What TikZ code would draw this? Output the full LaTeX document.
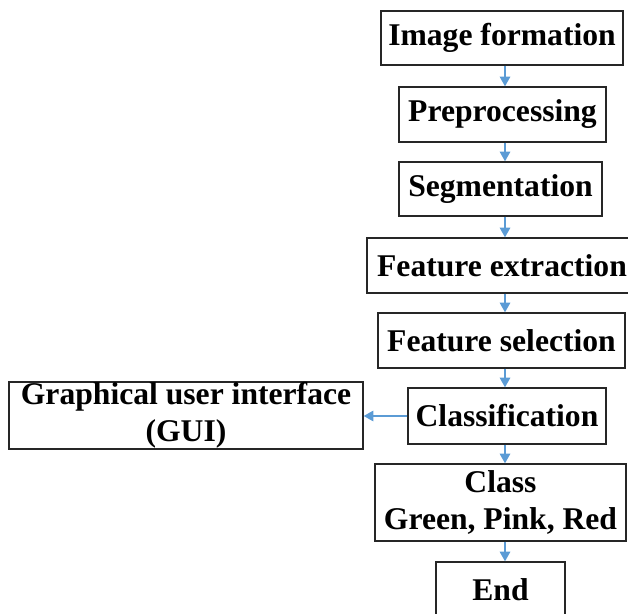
\documentclass[tikz,border=0pt]{standalone}
\usepackage{fontspec}
\setmainfont{Liberation Serif}
\usetikzlibrary{arrows.meta}
\definecolor{arrowblue}{HTML}{5B9BD5}
\begin{document}
\begin{tikzpicture}[x=0.02cm,y=-0.02cm,
    box/.style={draw=black!85,line width=0.8pt,inner sep=0pt,align=center,font=\fontsize{18}{21}\selectfont\bfseries},
    arr/.style={draw=arrowblue,line width=0.8pt,-{Triangle[width=6pt,length=5.5pt]}}]
                \clip (0,0) rectangle (628,614);
                \coordinate (ax) at (505,0);

                \node[box,minimum width=242*0.02cm,minimum height=54*0.02cm] at (502,38) (img) {Image formation};
                \node[box,minimum width=207*0.02cm,minimum height=55*0.02cm] at (502.5,114.5) (pre) {Preprocessing};
                \node[box,minimum width=203*0.02cm,minimum height=54*0.02cm] at (500.5,189) (seg) {Segmentation};
                \node[box,minimum width=270*0.02cm,minimum height=55*0.02cm] at (502,265.5) (fext) {Feature extraction};
                \node[box,minimum width=247*0.02cm,minimum height=55*0.02cm] at (501.5,340.5) (fsel) {Feature selection};
                \node[box,minimum width=198*0.02cm,minimum height=56*0.02cm] at (507,416) (cls) {Classification};
                \node[box,minimum width=354*0.02cm,minimum height=67*0.02cm] at (186,415.5) (gui) {Graphical user interface\\(GUI)};
                \node[box,minimum width=251*0.02cm,minimum height=77*0.02cm] at (500.5,502.5) (class) {Class\\Green, Pink, Red};
                \node[box,minimum width=129*0.02cm,minimum height=56*0.02cm] at (500.5,590) (end) {End};

                \path (img.south -| ax) edge[arr] (pre.north -| ax);
                \path (pre.south -| ax) edge[arr] (seg.north -| ax);
                \path (seg.south -| ax) edge[arr] (fext.north -| ax);
                \path (fext.south -| ax) edge[arr] (fsel.north -| ax);
                \path (fsel.south -| ax) edge[arr] (cls.north -| ax);
                \path (cls.west) edge[arr] (cls.west -| gui.east);
                \path (cls.south -| ax) edge[arr] (class.north -| ax);
                \path (class.south -| ax) edge[arr] (end.north -| ax);
            \end{tikzpicture}
\end{document}
